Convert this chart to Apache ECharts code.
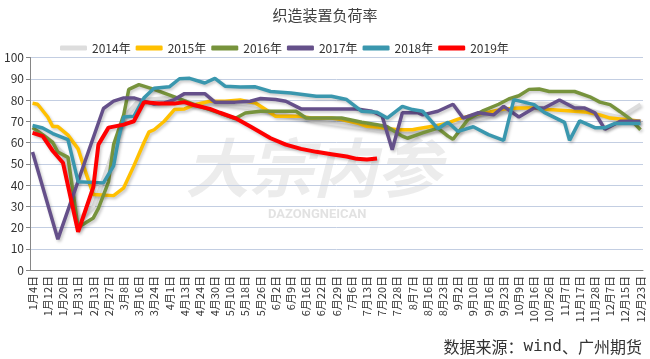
<!DOCTYPE html>
<html>
<head>
<meta charset="utf-8">
<script src="https://cdn.jsdelivr.net/npm/echarts@6/dist/echarts.min.js"></script>
<style>
html,body{margin:0;padding:0;background:#fff;}
#chart{width:650px;height:359px;}
</style>
</head>
<body>
<div id="chart"></div>
<script>
// Tick labels (every third category of the axis)
var tickLabels = ['1月4日','1月12日','1月20日','1月31日','2月13日','2月27日','3月8日','3月16日','3月24日','4月1日','4月13日','4月24日','4月30日','5月10日','5月18日','5月26日','6月2日','6月9日','6月16日','6月22日','6月29日','7月6日','7月13日','7月20日','7月28日','8月7日','8月16日','8月23日','9月2日','9月10日','9月16日','9月23日','10月9日','10月16日','10月26日','11月7日','11月17日','11月28日','12月7日','12月15日','12月23日'];
var seriesNames = ['2014年','2015年','2016年','2017年','2018年','2019年'];

// Values as [categoryIndex, value]
var y2014 = [[0,67],[3,62],[6,55],[9,24],[12,30],[15,50],[18,72],[21,80],[26,81],[32,79],[38,78],[44,76],[50,73],[56,70],[62,68],[68,66],[74,64],[80,66],[86,70],[92,74],[96,77],[100,78.5],[106,78],[112,74],[116,72],[120,78]];
var y2015 = [[0,78.5],[1,78],[3,72],[4,67.5],[5,67.5],[7,63.5],[9,57],[10,49.5],[12,35.5],[16,35],[18,38.7],[20,49],[22,60],[23,65],[24,66],[26,70],[28,75.5],[30,75.8],[32,77.8],[35,79.4],[38,79.4],[41,80],[43,79],[44,78.6],[46,75.5],[48,72.3],[53,72.3],[55,71.5],[59,71.5],[61,70.8],[64,69.2],[66,67.6],[68,67.3],[72,66],[75,66],[76,66.5],[79,67.6],[82,69.2],[84,71],[87,73],[90,74.2],[93,75.8],[96,76.2],[99,76.2],[102,75.5],[105,75.1],[109,74.4],[112,73],[114,71.5],[117,70.8],[120,70]];
var y2016 = [[0,67],[2,63.7],[4,60],[5,55.5],[7,53],[9,20],[10,21.5],[12,24.5],[13,29],[15,41.5],[16,59],[18,73],[19,85],[21,87.2],[24,85],[28,81.5],[32,77.8],[35,75.5],[38,73],[40,71.3],[42,73.9],[45,74.7],[52,74.7],[54,71.5],[61,71.5],[65,69.5],[68,68.4],[70,67.4],[73,63],[74,62],[77,64.5],[80,66.8],[82,63],[83,61.5],[86,71],[89,75],[92,78],[94,80.5],[96,82],[98,85],[100,85.2],[102,84],[107,84],[110,81.5],[112,79],[114,77.8],[116,74.5],[118,71],[120,66]];
var y2017 = [[0,55.5],[5,14.5],[14,76],[16,79.5],[18,81],[20,81],[22,79.5],[24,78.1],[26,78.6],[28,80.2],[30,83],[34,83],[36,79],[40,79],[43,79.4],[45,80.7],[48,80.2],[50,79.4],[53,75.8],[64,75.8],[67,74.7],[69,72.5],[71,56.6],[73,74],[76,74],[77,73],[80,74.7],[83,78],[85,71.5],[88,74],[91,73],[93,77],[96,72],[99,76.2],[101,76.2],[104,80],[107,76.2],[109,76.2],[111,74],[113,66.2],[116,70],[120,70]];
var y2018 = [[0,68],[2,66.8],[4,64.2],[7,61.3],[9,41.5],[14,41],[16,49],[17,62],[18,72],[20,72.3],[22,81],[24,85.5],[27,86.2],[29,90],[31,90.2],[34,88],[36,90.2],[38,86.5],[41,86.1],[44,86.2],[47,84],[51,83.3],[56,81.8],[59,81.8],[62,80.2],[65,74.7],[68,74.2],[70,71.5],[73,77],[75,75.5],[77,74.7],[80,66.5],[82,69.5],[84,65.2],[87,67.4],[90,63.7],[93,61],[95,80.2],[99,77.8],[101,74.2],[105,69.5],[106,61],[108,70.2],[111,67],[113,67],[115,69],[120,69]];
var y2019 = [[0,64.5],[2,63],[4,56],[6,50.5],[9,18],[12,39],[13,59],[15,67],[18,68.4],[20,70],[22,79],[25,78.3],[28,78.3],[30,79],[32,77.5],[35,75.8],[37,74],[40,71.5],[43,67.5],[47,62],[50,59],[53,57],[56,55.6],[59,54.5],[62,53.4],[64,52.3],[66,52],[68,52.5]];

var colors = ['#DDDDDD','#FFC000','#77933C','#65508A','#3A97AE','#FF0000'];
var allData = [y2014,y2015,y2016,y2017,y2018,y2019];

var categories = [];
for (var i = 0; i < (tickLabels.length - 1) * 3 + 1; i++) {
  categories.push(i % 3 === 0 ? tickLabels[i / 3] : '');
}

var FONT = '"Noto Sans CJK SC", "Noto Sans", sans-serif';
var chart = echarts.init(document.getElementById('chart'));
var series = seriesNames.map(function (n, k) {
  return {
    name: n, type: 'line', data: allData[k], symbol: 'none', smooth: false,
    lineStyle: {width: k === 5 ? 4 : 3.5, color: colors[k],
      shadowColor: 'rgba(0,0,0,0.22)', shadowBlur: 3, shadowOffsetX: 1.5, shadowOffsetY: 2},
    itemStyle: {color: colors[k]},
    z: 3 + k
  };
});

chart.setOption({
  animation: false,
  backgroundColor: '#fff',
  color: colors,
  title: {text: '织造装置负荷率', left: 'center', top: 3,
    textStyle: {fontSize: 15, fontWeight: 'normal', color: '#404040', fontFamily: FONT}},
  legend: {data: seriesNames, left: 55, top: 37, icon: 'roundRect', itemWidth: 27, itemHeight: 5, itemGap: 5,
    textStyle: {fontSize: 12, color: '#333', fontFamily: FONT}},
  grid: {left: 30, right: 7, top: 57.5, bottom: 89},
  xAxis: {type: 'category', data: categories, boundaryGap: true,
    axisLine: {lineStyle: {color: '#868686', width: 1}},
    axisTick: {interval: 9, length: 5, lineStyle: {color: '#868686'}},
    axisLabel: {interval: 2, rotate: 90, fontSize: 11, color: '#333', margin: 6, fontFamily: FONT}},
  yAxis: {type: 'value', min: 0, max: 100, interval: 10,
    axisLine: {show: true, lineStyle: {color: '#868686'}},
    axisTick: {show: true, length: 4, lineStyle: {color: '#868686'}},
    axisLabel: {fontSize: 12, color: '#333', margin: 6, fontFamily: FONT},
    splitLine: {lineStyle: {color: '#C3CEE2', width: 1}}},
  graphic: [
    {type: 'text', left: 185, top: 136, z: -10, silent: true,
      style: {text: '大宗内参', fontSize: 64, fontStyle: 'italic', fontWeight: 'bold', fill: 'rgba(160,160,160,0.2)', fontFamily: FONT}},
    {type: 'text', left: 268, top: 208, z: -10, silent: true,
      style: {text: 'DAZONGNEICAN', fontSize: 13, fontWeight: 'bold', fill: 'rgba(160,160,160,0.3)', fontFamily: 'Roboto, sans-serif'}},
    {type: 'text', right: 8, top: 339, z: 10,
      style: {text: '{a|数据来源：}{b|wind}{a|、广州期货}', rich: {
        a: {fontSize: 16, fill: '#333', fontFamily: FONT},
        b: {fontSize: 16, fill: '#333', fontFamily: '"DejaVu Sans Mono", monospace'}}}}
  ],
  series: series
});
</script>
</body>
</html>
